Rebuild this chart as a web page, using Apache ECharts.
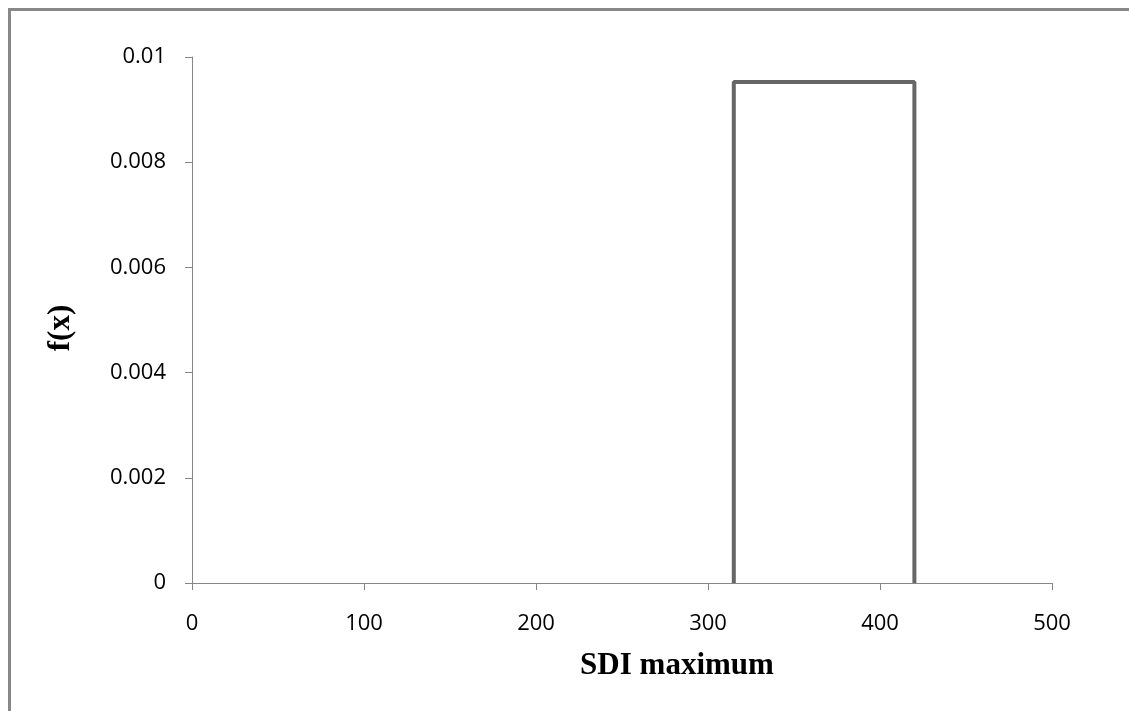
<!DOCTYPE html>
<html>
<head>
<meta charset="utf-8">
<title>SDI maximum</title>
<script src="https://cdn.jsdelivr.net/npm/echarts@6/dist/echarts.min.js"></script>
<style>
    html, body { margin: 0; padding: 0; background: #fff; }
    #chart { width: 1129px; height: 711px; }
</style>
</head>
<body>
<div id="chart"></div>
<script>
// uniform density outline: x and f(x)
const xValues = [315, 315, 420, 420];
const fxValues = [0, 0.009524, 0.009524, 0];
const xTicks = [0, 100, 200, 300, 400, 500];
const yTicks = [0, 0.002, 0.004, 0.006, 0.008, 0.01];

const chart = echarts.init(document.getElementById('chart'));
const labelFont = { color: '#000', fontSize: 22, fontFamily: 'Open Sans' };
const titleFont = { color: '#000', fontSize: 31, fontWeight: 'bold', fontFamily: 'Liberation Serif' };

chart.setOption({
    animation: false,
    grid: { left: 192, top: 57, right: 77, bottom: 128 },
    graphic: [
        {
            type: 'rect',
            shape: { x: 9.5, y: 9.5, width: 1300, height: 900 },
            style: { fill: 'none', stroke: '#888', lineWidth: 3 }
        }
    ],
    xAxis: {
        type: 'value',
        min: xTicks[0],
        max: xTicks[xTicks.length - 1],
        interval: 100,
        name: 'SDI maximum',
        nameLocation: 'middle',
        nameGap: 67,
        nameTextStyle: Object.assign({ padding: [0, 0, 0, 110] }, titleFont),
        axisLine: { lineStyle: { color: '#868686', width: 1 } },
        axisTick: { show: true, length: 7, lineStyle: { color: '#868686' } },
        axisLabel: Object.assign({ margin: 30 }, labelFont),
        splitLine: { show: false }
    },
    yAxis: {
        type: 'value',
        min: yTicks[0],
        max: yTicks[yTicks.length - 1],
        interval: 0.002,
        name: 'f(x)',
        nameLocation: 'middle',
        nameGap: 116,
        nameTextStyle: Object.assign({ padding: [0, 16, 0, 0] }, titleFont),
        axisLine: { show: true, lineStyle: { color: '#868686', width: 1 } },
        axisTick: { show: true, length: 7, lineStyle: { color: '#868686' } },
        axisLabel: Object.assign({ margin: 26 }, labelFont),
        splitLine: { show: false }
    },
    series: [
        {
            type: 'line',
            data: xValues.map((x, i) => [x, fxValues[i]]),
            symbol: 'none',
            lineStyle: { color: '#666', width: 4 }
        }
    ]
});
</script>
</body>
</html>
